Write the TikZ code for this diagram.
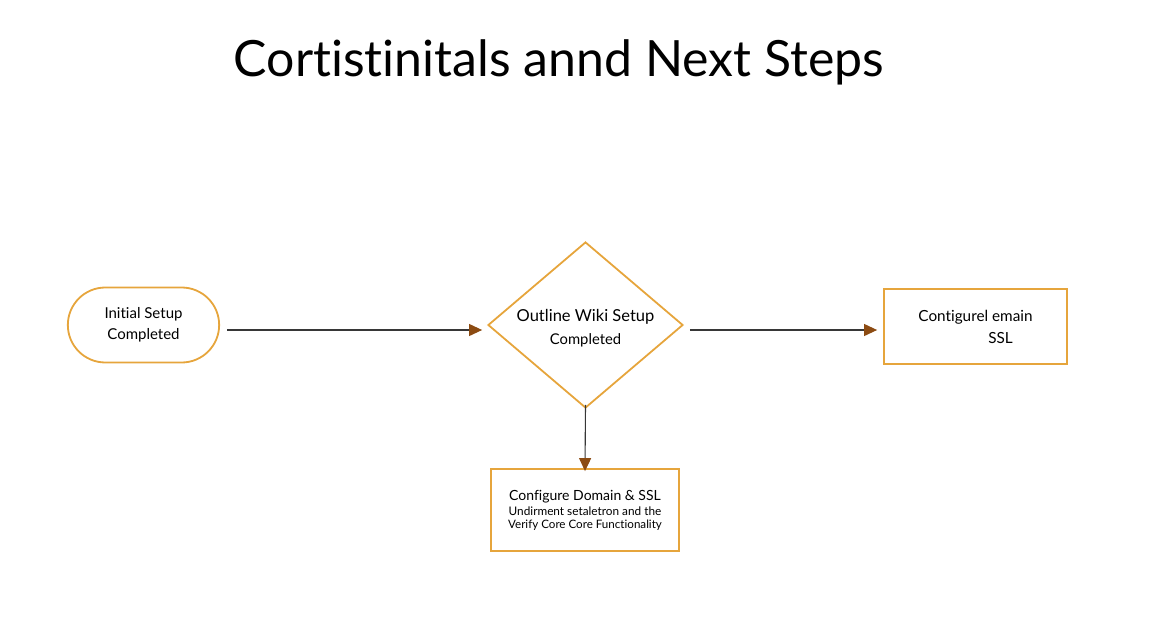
\documentclass[tikz,border=0pt]{standalone}
\usepackage{fontspec}
\setmainfont[Ligatures={NoCommon,NoContextual}]{Lato}
\usepackage{tikz}
\usetikzlibrary{
    arrows.meta,
    shapes.geometric,
    shapes.misc,
    positioning
}
\definecolor{goldline}{RGB}{230,165,60}
\definecolor{tipbrown}{RGB}{140,75,18}
\definecolor{linegray}{RGB}{55,55,55}
\tikzstyle{flow} = [
    -{Triangle[length=13pt,width=12pt,fill=tipbrown,color=tipbrown]},
    line width=1.1pt,
    draw=linegray
]
\tikzstyle{terminal} = [
    rounded rectangle,
    draw=goldline,
    line width=1.8pt,
    minimum width=158pt,
    minimum height=75pt,
    align=center,
    font=\fontsize{15}{21}\selectfont
]
\tikzstyle{decision} = [
    diamond,
    draw=goldline,
    line width=1.8pt,
    minimum width=195pt,
    minimum height=166pt,
    aspect=1.17,
    inner sep=0pt,
    align=center,
    font=\fontsize{16.5}{23}\selectfont
]
\tikzstyle{process} = [
    rectangle,
    draw=goldline,
    line width=1.8pt,
    align=center
]

\begin{document}
\begin{tikzpicture}[x=1pt, y=-1pt]
        \useasboundingbox (0,0) rectangle (1152,640);

        % Title
        \node[font=\fontsize{50}{56}\selectfont] (title) at (559,62) {Cortistinitals annd Next Steps};

        % Start
        \node[terminal] (initial) at (143.5,325) {Initial Setup\\Completed};

        % Decision
        \node[decision, text depth=0pt] (outline) at (585.5,325)
            {\raisebox{-4pt}{Outline Wiki Setup}\\\raisebox{-4pt}{\fontsize{14.8}{20}\selectfont Completed}};

        % Right box
        \node[process, minimum width=183pt, minimum height=75pt, font=\fontsize{15.3}{22}\selectfont] (config) at (975.5,326.5)
            {Contigurel emain\\\hspace*{50pt}SSL};

        % Bottom box
        \node[process, minimum width=188pt, minimum height=82pt] (verify) at (585,510)
            {\fontsize{14}{19}\selectfont Configure Domain \& SSL\\[3pt]
             \fontsize{11.8}{15}\selectfont Undirment setaletron and the\\[1pt]
             \fontsize{11.6}{15}\selectfont Verify Core Core Functionality};

        % Connectors
        \coordinate (lvl) at (0,330);
        \draw[flow] ([xshift=7pt]initial.east |- lvl) -- ([xshift=-5pt]outline.west |- lvl);
        \draw[flow] ([xshift=6pt]outline.east |- lvl) -- ([xshift=-6pt]config.west |- lvl);
        \draw[flow] ([yshift=4pt]outline.south) -- ([yshift=-3pt]verify.north);
    \end{tikzpicture}
\end{document}
